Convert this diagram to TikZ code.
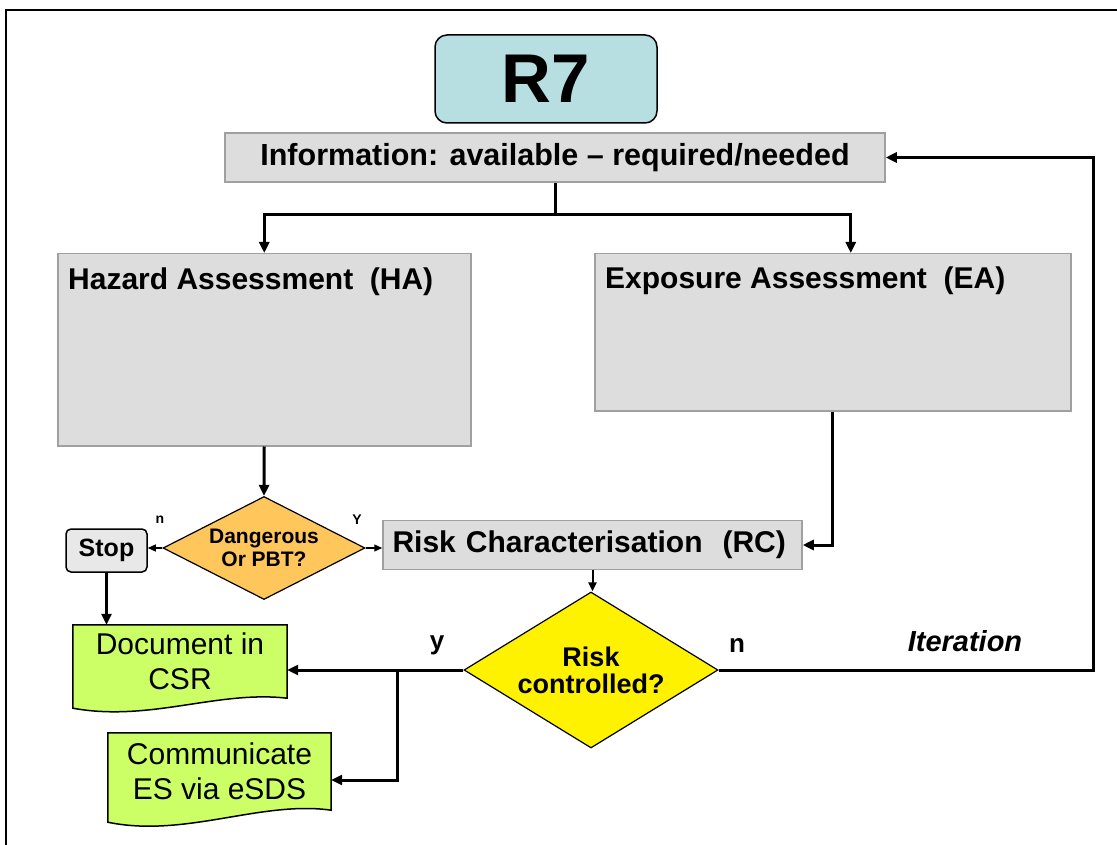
\documentclass[tikz,border=0pt]{standalone}
\usepackage{fontspec}
\setmainfont{Liberation Sans}
\usetikzlibrary{arrows.meta,shapes.geometric,calc}
\definecolor{rseven}{HTML}{B7DFE2}
\definecolor{boxfill}{HTML}{DDDDDD}
\definecolor{boxline}{HTML}{A0A0A0}
\definecolor{orangefill}{HTML}{FFC65C}
\definecolor{greenfill}{HTML}{CCFF66}
\definecolor{stopfill}{HTML}{E8E8E8}
\pgfdeclarelayer{background}
\pgfsetlayers{background,main}
\begin{document}
\begin{tikzpicture}[x=1pt,y=-1pt,
  graybox/.style={draw=boxline, line width=1.5, fill=boxfill, inner sep=0pt},
  hdr/.style={font=\fontsize{30}{34}\selectfont\bfseries},
  thickline/.style={line width=3},
  conn/.style={line width=3, -{Triangle[length=11,width=10]}},
  thinconn/.style={line width=1.2, -{Triangle[length=8,width=7]}},
  medconn/.style={line width=2, -{Triangle[length=9,width=8]}},
  docnode/.style={inner sep=0pt, align=center, font=\fontsize{30}{35}\selectfont},
  docshape/.style={draw=black, line width=1.5, fill=greenfill},
  lbl/.style={font=\fontsize{26}{26}\selectfont\bfseries, inner sep=0pt},
  smalllbl/.style={font=\fontsize{14}{14}\selectfont\bfseries, inner sep=0pt}
]
\useasboundingbox (0,0) rectangle (1117,845);
\draw[line width=2.5] (6,845) -- (6,10) -- (1117,10);

% top
\node[draw=black, line width=1.5, rounded corners=12, fill=rseven, minimum width=222, minimum height=88, inner sep=0pt, font=\fontsize{69}{69}\selectfont\bfseries] (r7) at (546,79) {R7};
\node[graybox, minimum width=660, minimum height=49, font=\fontsize{30.5}{34}\selectfont\bfseries] (info) at (555,157.5) {Information: available -- required/needed};

% assessments
\node[graybox, minimum width=413, minimum height=192, anchor=north west] (ha) at (57,253) {};
\node[hdr, anchor=base west, inner sep=0pt] (hat) at (68,290) {Hazard Assessment\ \ (HA)};
\node[graybox, minimum width=476, minimum height=157, anchor=north west] (ea) at (594,253) {};
\node[hdr, anchor=base west, inner sep=0pt] (eat) at (605,289) {Exposure Assessment\ \ (EA)};

% decision 1
\node[diamond, aspect=2, draw=black, line width=1.2, fill=orangefill, minimum width=202, minimum height=103, inner sep=0pt, align=center, font=\fontsize{21}{23}\selectfont\bfseries] (d1) at (264,548) {Dangerous\\Or PBT?};
\node[draw=black, line width=1.5, rounded corners=5, fill=stopfill, minimum width=81, minimum height=43, inner sep=0pt, font=\fontsize{25}{25}\selectfont\bfseries] (stop) at (106.5,550.5) {Stop};
\node[graybox, minimum width=419, minimum height=49, hdr, text width=400, align=left] (rc) at (592.5,545) {Risk Characterisation\ \ (RC)};

% decision 2
\node[diamond, aspect=1.6, draw=black, line width=1.2, fill=yellow, minimum width=254, minimum height=156, inner sep=0pt, align=center, font=\fontsize{27}{27}\selectfont\bfseries] (d2) at (591,670) {Risk\\controlled?};

% documents
\node[docnode, minimum width=214, minimum height=73] (doc) at (180,661.5) {Document in\\CSR};
\node[docnode, minimum width=223, minimum height=77] (comm) at (219.5,771.5) {Communicate\\ES via eSDS};
\begin{pgfonlayer}{background}
\draw[docshape] (doc.north west) -- (doc.north east) -- (doc.south east)
  .. controls ($(doc.south east)+(-70,-8)$) and ($(doc.south west)+(77,24)$) .. ($(doc.south west)+(0,10)$) -- cycle;
\draw[docshape] (comm.north west) -- (comm.north east) -- (comm.south east)
  .. controls ($(comm.south east)+(-70,-10)$) and ($(comm.south west)+(77,28)$) .. ($(comm.south west)+(0,12)$) -- cycle;
\end{pgfonlayer}

% labels
\node[smalllbl] (nl1) at (160,520) {n};
\node[smalllbl] (yl1) at (357,520) {Y};
\node[lbl] (yl2) at (437,645) {y};
\node[lbl] (nl2) at (737,645) {n};
\node[font=\fontsize{29}{29}\selectfont\bfseries\itshape, inner sep=0pt] (itl) at (965,641) {Iteration};

% connectors
\coordinate (split) at (555,215);
\draw[thickline] (info.south) -- (split);
\draw[conn] (split) -| (ha.north);
\draw[conn] (split) -| ($(ea.north)+(18,0)$);
\draw[conn] (ha.south) -- (d1.north);
\draw[thinconn] (d1.west) -- (d1.west -| stop.east);
\draw[thinconn] (d1.east) -- (d1.east -| rc.west);
\draw[conn] (ea.south) |- (rc.east);
\draw[conn] (stop.south) -- (stop.south |- doc.north);
\draw[medconn] (rc.south) -- (rc.south |- d2.north);
\coordinate (iter) at (1093,670);
\draw[conn] (d2.east) -- (iter) |- (info.east);
\draw[conn] (d2.west) -- (d2.west -| doc.east);
\coordinate (br) at (397,670);
\draw[conn] (br) |- ($(comm.east)+(0,8.5)$);
\end{tikzpicture}
\end{document}
